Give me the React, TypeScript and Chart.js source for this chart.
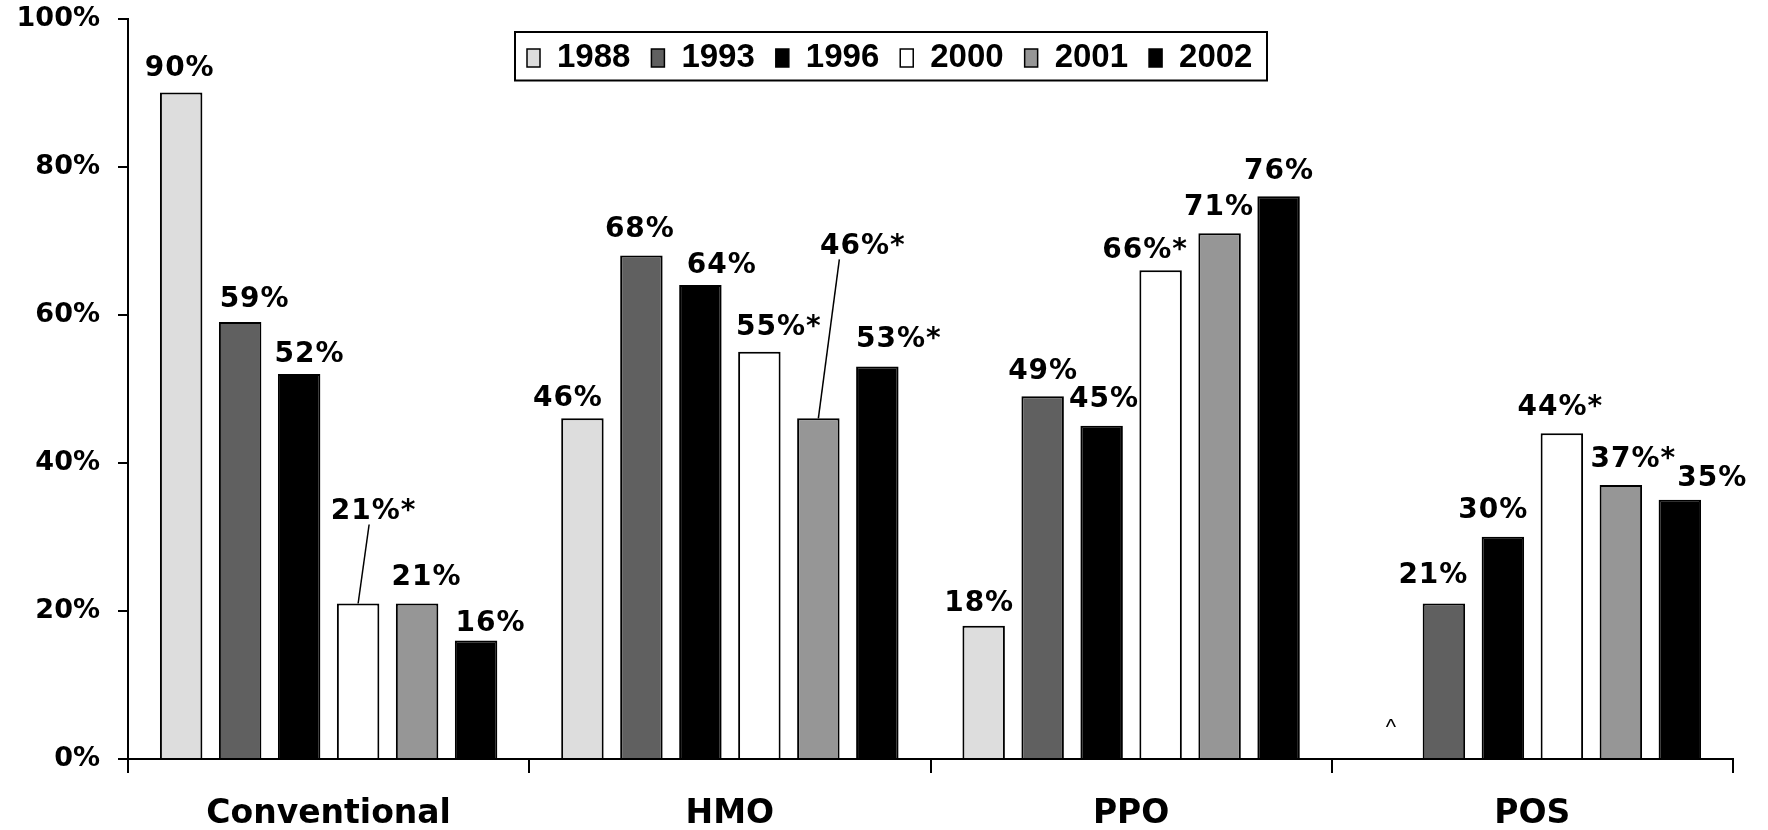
import { useEffect, useRef } from 'react';
import { Chart, registerables } from 'chart.js';

Chart.register(...registerables);

// ---------- data ----------
const categories = ['Conventional', 'HMO', 'PPO', 'POS'];
const years = ['1988', '1993', '1996', '2000', '2001', '2002'];

const v1988: (number | null)[] = [90, 46, 18, null];
const v1993: (number | null)[] = [59, 68, 49, 21];
const v1996: (number | null)[] = [52, 64, 45, 30];
const v2000: (number | null)[] = [21, 55, 66, 44];
const v2001: (number | null)[] = [21, 46, 71, 37];
const v2002: (number | null)[] = [16, 53, 76, 35];

// significance markers (*) per series
const star1988 = [false, false, false, false];
const star1993 = [false, false, false, false];
const star1996 = [false, false, false, false];
const star2000 = [true, true, true, true];
const star2001 = [false, true, false, true];
const star2002 = [false, true, false, false];

// "^" marker: value not available (POS, 1988)
const naMark = '^';

const yTicks = [0, 20, 40, 60, 80, 100];

// ---------- styling ----------
const seriesValues = [v1988, v1993, v1996, v2000, v2001, v2002];
const seriesStars = [star1988, star1993, star1996, star2000, star2001, star2002];
const seriesColors = ['#DDDDDD', '#606060', '#000000', '#FFFFFF', '#969696', '#000000'];

// label nudges per series / category: [dx from bar centre, gap above bar top, leader-line dx (optional)]
const labelNudge: (number | null)[][][] = [
  [[-2, 17], [-15, 12], [-5, 15], [6, 0]],
  [[14, 15], [-2, 18], [0, 17], [-11, 20]],
  [[10, 12], [21, 12], [2, 19], [-10, 19]],
  [[15, 84, -4], [19, 17], [-16, 12], [-2, 18]],
  [[9, 18], [44, 164, -23], [-1, 18], [12, 18]],
  [[14, 10], [21, 20], [0, 17], [32, 14]],
];

const LABEL_FONT = 'bold 28px "DejaVu Sans"';
const AXIS_FONT = { family: '"DejaVu Sans"', size: 27, weight: 'bold' as const };
const CAT_FONT = { family: '"DejaVu Sans"', size: 33, weight: 'bold' as const };
const LEGEND_FONT = 'bold 33px "Liberation Sans"';

const overlayPlugin = {
  id: 'overlay',
  afterDraw(chart: any) {
    const ctx: CanvasRenderingContext2D = chart.ctx;
    const xScale = chart.scales.x;
    ctx.save();

    // data labels
    ctx.fillStyle = '#000';
    ctx.strokeStyle = '#000';
    ctx.textAlign = 'center';
    ctx.textBaseline = 'alphabetic';
    ctx.font = LABEL_FONT;
    (ctx as any).letterSpacing = '1px';
    seriesValues.forEach((vals, di) => {
      const meta = chart.getDatasetMeta(di);
      vals.forEach((v, ci) => {
        if (v == null) return;
        const bar = meta.data[ci];
        const nud = labelNudge[di][ci];
        const lx = bar.x + (nud[0] as number) + 0.5;
        const ly = bar.y - (nud[1] as number);
        const text = `${v}%${seriesStars[di][ci] ? '*' : ''}`;
        ctx.fillText(text, lx, ly);
        if (nud.length > 2 && nud[2] != null) {
          ctx.lineWidth = 1.5;
          ctx.beginPath();
          ctx.moveTo(lx - 0.5 + (nud[2] as number), ly + 5);
          ctx.lineTo(bar.x, bar.y);
          ctx.stroke();
        }
      });
    });
    (ctx as any).letterSpacing = '0px';

    // "^" for missing values
    seriesValues.forEach((vals, di) => {
      vals.forEach((v, ci) => {
        if (v != null) return;
        const ref = chart.getDatasetMeta(di).data[0];
        const off = ref.x - xScale.getPixelForValue(0);
        const x = xScale.getPixelForValue(ci) + off + (labelNudge[di][ci][0] as number);
        ctx.font = '22px "Liberation Sans"';
        ctx.textAlign = 'center';
        ctx.fillText(naMark, x, chart.scales.y.getPixelForValue(0) - 25);
      });
    });

    // legend
    const bx = 515, by = 32, bw = 752, bh = 48.5;
    ctx.lineWidth = 2;
    ctx.fillStyle = '#fff';
    ctx.fillRect(bx, by, bw, bh);
    ctx.strokeStyle = '#000';
    ctx.strokeRect(bx, by, bw, bh);
    ctx.font = LEGEND_FONT;
    ctx.textAlign = 'left';
    let x = 527;
    years.forEach((yr, i) => {
      ctx.fillStyle = seriesColors[i];
      ctx.fillRect(x, 49, 13, 18);
      ctx.lineWidth = 1.5;
      ctx.strokeStyle = '#000';
      ctx.strokeRect(x, 49, 13, 18);
      ctx.fillStyle = '#000';
      ctx.fillText(yr, x + 30, 67);
      x += 30 + ctx.measureText(yr).width + 21;
    });

    ctx.restore();
  },
};

export default function App() {
  const ref = useRef<HTMLCanvasElement | null>(null);

  useEffect(() => {
    document.body.style.margin = '0';
    document.body.style.overflow = 'hidden';
    const canvas = ref.current;
    if (!canvas) return;
    const chart = new Chart(canvas, {
      type: 'bar',
      data: {
        labels: categories,
        datasets: years.map((yr, i) => ({
          label: yr,
          data: seriesValues[i] as any,
          backgroundColor: seriesColors[i],
          borderColor: '#000',
          borderWidth: 2,
          categoryPercentage: 0.882,
          barPercentage: 0.72,
        })),
      },
      options: {
        animation: false,
        responsive: true,
        maintainAspectRatio: false,
        layout: { padding: { top: 18.5, right: 35, left: 0, bottom: 0 } },
        plugins: {
          legend: { display: false },
          tooltip: { enabled: false },
          title: { display: false },
        },
        scales: {
          x: {
            grid: {
              offset: true,
              drawOnChartArea: false,
              tickLength: 14,
              color: '#000',
              lineWidth: 2,
            },
            border: { display: true, color: '#000', width: 2 },
            ticks: { font: CAT_FONT, color: '#000', padding: 22, maxRotation: 0 },
            afterFit: (s: any) => {
              s.height = 71;
            },
          },
          y: {
            min: 0,
            max: 100,
            afterBuildTicks: (s: any) => {
              s.ticks = yTicks.map((v) => ({ value: v }));
            },
            grid: {
              drawOnChartArea: false,
              tickLength: 10,
              color: '#000',
              lineWidth: 2,
            },
            border: { display: true, color: '#000', width: 2 },
            ticks: {
              font: AXIS_FONT,
              color: '#000',
              padding: 18,
              callback: (v: any) => `${v}%`,
            },
            afterFit: (s: any) => {
              s.width = 128;
              s.paddingTop = 0;
              s.paddingBottom = 0;
            },
          },
        },
      },
      plugins: [overlayPlugin],
    });
    return () => chart.destroy();
  }, []);

  return (
    <div style={{ position: 'relative', width: '1768px', height: '830px', background: '#fff' }}>
      <canvas ref={ref} style={{ display: 'block' }} />
    </div>
  );
}
